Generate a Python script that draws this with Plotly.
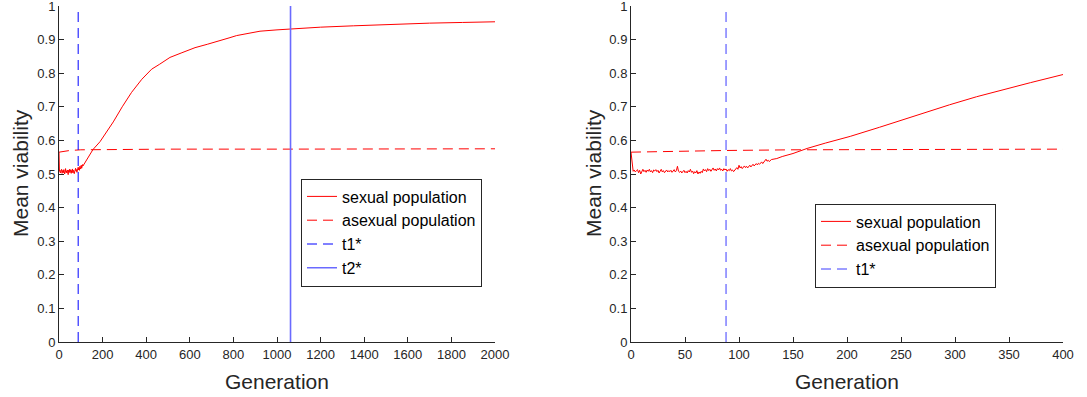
import plotly.graph_objects as go
from plotly.subplots import make_subplots

# ---- left panel: 2000 generations ----
left_noise_gen = list(range(0, 112, 2))
left_noise_val = [
    0.565, 0.508, 0.512, 0.503, 0.510, 0.506, 0.514, 0.502, 0.509, 0.511,
    0.504, 0.513, 0.507, 0.500, 0.510, 0.516, 0.505, 0.509, 0.503, 0.512,
    0.508, 0.498, 0.511, 0.506, 0.514, 0.504, 0.509, 0.513, 0.502, 0.510,
    0.507, 0.515, 0.503, 0.511, 0.508, 0.501, 0.512, 0.506, 0.517, 0.509,
    0.513, 0.505, 0.515, 0.510, 0.520, 0.512, 0.518, 0.511, 0.523, 0.515,
    0.519, 0.526, 0.517, 0.522, 0.528, 0.524,
]
left_trend_gen = [116, 130, 156, 188, 220, 249, 290, 333, 380, 425, 460, 509,
                  560, 624, 680, 739, 780, 815, 860, 922, 1000, 1060, 1200,
                  1350, 1503, 1700, 1850, 2000]
left_trend_val = [0.530, 0.545, 0.573, 0.596, 0.625, 0.655, 0.700, 0.743,
                  0.782, 0.812, 0.826, 0.847, 0.860, 0.876, 0.886, 0.896,
                  0.905, 0.912, 0.918, 0.925, 0.929, 0.932, 0.937, 0.941,
                  0.945, 0.949, 0.951, 0.953]
left_asex_gen = [0, 20, 50, 100, 200, 500, 1000, 2000]
left_asex_val = [0.565, 0.567, 0.570, 0.572, 0.573, 0.574, 0.574, 0.575]
left_t1 = 88
left_t2 = 1062

# ---- right panel: first 400 generations ----
right_noise_gen = list(range(0, 131))
right_noise_val = [
    0.565, 0.540, 0.508, 0.512, 0.506, 0.510, 0.513, 0.504, 0.511, 0.500,
    0.509, 0.514, 0.507, 0.511, 0.505, 0.512, 0.508, 0.514, 0.506, 0.510,
    0.504, 0.512, 0.509, 0.513, 0.507, 0.511, 0.503, 0.509, 0.514, 0.506,
    0.510, 0.504, 0.508, 0.512, 0.506, 0.510, 0.507, 0.511, 0.505, 0.509,
    0.513, 0.506, 0.510, 0.523, 0.508, 0.505, 0.509, 0.503, 0.507, 0.511,
    0.504, 0.508, 0.503, 0.510, 0.506, 0.514, 0.505, 0.509, 0.501, 0.507,
    0.503, 0.510, 0.500, 0.506, 0.502, 0.508, 0.504, 0.515, 0.509, 0.513,
    0.507, 0.516, 0.510, 0.514, 0.508, 0.512, 0.518, 0.511, 0.515, 0.509,
    0.516, 0.512, 0.518, 0.511, 0.514, 0.509, 0.516, 0.512, 0.515, 0.508,
    0.513, 0.510, 0.516, 0.509, 0.512, 0.507, 0.511, 0.515, 0.519, 0.514,
    0.526, 0.518, 0.522, 0.516, 0.520, 0.524, 0.519, 0.523, 0.518, 0.522,
    0.526, 0.521, 0.525, 0.529, 0.524, 0.528, 0.531, 0.527, 0.532, 0.529,
    0.533, 0.536, 0.531, 0.535, 0.539, 0.544, 0.538, 0.541, 0.537, 0.540,
    0.543,
]
right_trend_gen = [135, 140, 150, 163, 180, 203, 230, 249, 270, 295, 320,
                   342, 370, 400]
right_trend_val = [0.546, 0.552, 0.561, 0.576, 0.592, 0.612, 0.639, 0.659,
                   0.682, 0.706, 0.730, 0.749, 0.772, 0.796]
right_asex_gen = [0, 30, 88, 150, 250, 400]
right_asex_val = [0.565, 0.567, 0.570, 0.572, 0.573, 0.574]
right_t1 = 88

y_ticks = [0, 0.1, 0.2, 0.3, 0.4, 0.5, 0.6, 0.7, 0.8, 0.9, 1]
y_tick_text = ["0", "0.1", "0.2", "0.3", "0.4", "0.5", "0.6", "0.7", "0.8",
               "0.9", "1"]
left_x_ticks = [0, 200, 400, 600, 800, 1000, 1200, 1400, 1600, 1800, 2000]
right_x_ticks = [0, 50, 100, 150, 200, 250, 300, 350, 400]

legend_names = ["sexual population", "asexual population", "t1*", "t2*"]

RED = "#ff0000"
BLUE = "#0000ff"
BLUE_LIGHT = "#6a6aff"
AXIS = "#262626"
FONT = "Liberation Sans, Arial, sans-serif"
DASH = "10px,6px"

fig = make_subplots(rows=1, cols=2)

# left panel traces
fig.add_trace(go.Scatter(x=left_noise_gen + left_trend_gen,
                         y=left_noise_val + left_trend_val, mode="lines",
                         name=legend_names[0], line=dict(color=RED, width=1),
                         legend="legend"), row=1, col=1)
fig.add_trace(go.Scatter(x=left_asex_gen, y=left_asex_val, mode="lines",
                         name=legend_names[1],
                         line=dict(color=RED, width=1, dash=DASH),
                         legend="legend"), row=1, col=1)
fig.add_trace(go.Scatter(x=[left_t1, left_t1], y=[0, 1], mode="lines",
                         name=legend_names[2],
                         line=dict(color=BLUE, width=1, dash=DASH),
                         legend="legend"), row=1, col=1)
fig.add_trace(go.Scatter(x=[left_t2, left_t2], y=[0, 1], mode="lines",
                         name=legend_names[3],
                         line=dict(color=BLUE_LIGHT, width=1.6),
                         legend="legend"), row=1, col=1)

# right panel traces
fig.add_trace(go.Scatter(x=right_noise_gen + right_trend_gen,
                         y=right_noise_val + right_trend_val, mode="lines",
                         name=legend_names[0], line=dict(color=RED, width=1),
                         legend="legend2"), row=1, col=2)
fig.add_trace(go.Scatter(x=right_asex_gen, y=right_asex_val, mode="lines",
                         name=legend_names[1],
                         line=dict(color=RED, width=1, dash=DASH),
                         legend="legend2"), row=1, col=2)
fig.add_trace(go.Scatter(x=[right_t1, right_t1], y=[0, 1], mode="lines",
                         name=legend_names[2],
                         line=dict(color="#3c3cff", width=1, dash=DASH),
                         legend="legend2"), row=1, col=2)

W, H = 1087, 397
y_dom = [(H - 342) / H, (H - 6) / H]
x1_dom = [59 / W, 495 / W]
x2_dom = [631 / W, 1063 / W]

axis_common = dict(showline=True, linecolor=AXIS, linewidth=1, ticks="inside",
                   ticklen=5, tickcolor=AXIS, showgrid=False, zeroline=False,
                   mirror=False, automargin=False, ticklabeloverflow="allow",
                   tickfont=dict(family=FONT, size=13, color=AXIS))

legend_common = dict(xanchor="left", yanchor="middle", bgcolor="white",
                     bordercolor="#262626", borderwidth=1,
                     font=dict(family=FONT, size=16, color="black"),
                     itemwidth=30, tracegroupgap=0)

fig.update_layout(
    template="none",
    width=W, height=H, margin=dict(l=0, r=0, t=0, b=0, autoexpand=False),
    paper_bgcolor="white", plot_bgcolor="white",
    font=dict(family=FONT),
    xaxis=dict(domain=x1_dom, range=[0, 2000], tickvals=left_x_ticks,
               **axis_common),
    xaxis2=dict(domain=x2_dom, range=[0, 400], tickvals=right_x_ticks,
                **axis_common),
    yaxis=dict(domain=y_dom, range=[0, 1], tickvals=y_ticks,
               ticktext=y_tick_text, **axis_common),
    yaxis2=dict(domain=y_dom, range=[0, 1], tickvals=y_ticks,
                ticktext=y_tick_text, **axis_common),
    legend=dict(x=301 / W, y=1 - 232.5 / H, **legend_common),
    legend2=dict(x=815 / W, y=1 - 245.5 / H, **legend_common),
    showlegend=True,
)

# axis titles
title_font = dict(family=FONT, size=21, color=AXIS)
for cx in [(59 + 495) / 2, (631 + 1063) / 2]:
    fig.add_annotation(text="Generation", x=cx / W, y=1 - 381 / H,
                       xref="paper", yref="paper", showarrow=False,
                       xanchor="center", yanchor="middle", font=title_font)
for cx in [20, 593]:
    fig.add_annotation(text="Mean viability", x=cx / W, y=1 - 173 / H,
                       xref="paper", yref="paper", showarrow=False,
                       textangle=-90, xanchor="center", yanchor="middle",
                       font=title_font)

fig.write_html("out.html")
